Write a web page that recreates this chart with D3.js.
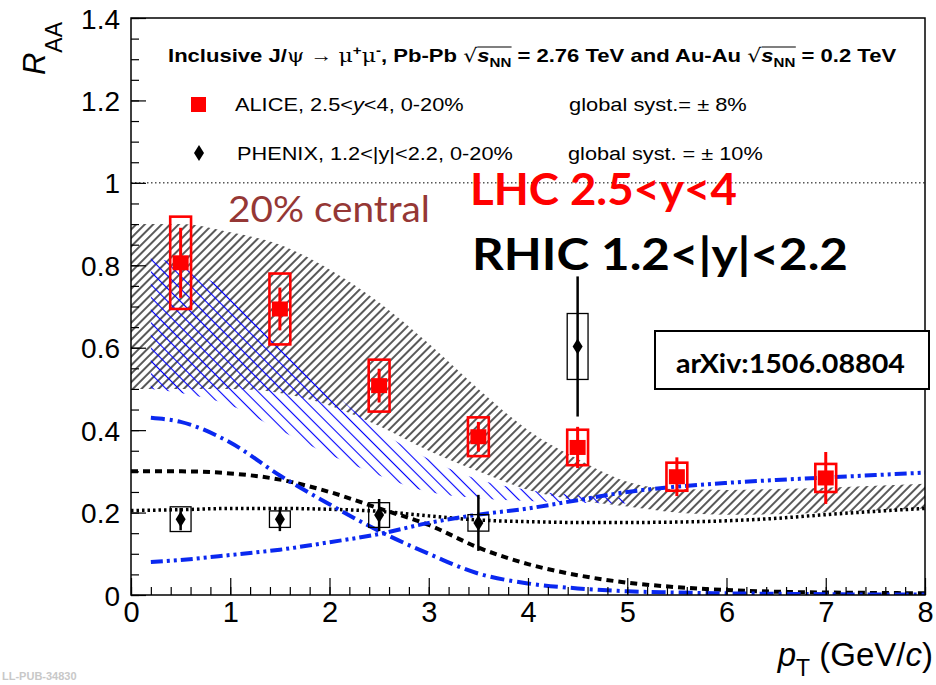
<!DOCTYPE html>
<html>
<head>
<meta charset="utf-8">
<script src="https://cdn.jsdelivr.net/npm/d3@7"></script>
<style>
  body { margin: 0; background: #fff; }
  svg { display: block; }
</style>
</head>
<body>
<div class="chart"></div>
<script>
// ALICE Pb-Pb 2.76 TeV, 2.5<y<4
const alicePt = [0.5, 1.5, 2.5, 3.5, 4.5, 5.5, 7.0];
const aliceRaa = [0.806, 0.694, 0.508, 0.384, 0.358, 0.287, 0.284];
const aliceStat = [0.085, 0.052, 0.041, 0.036, 0.050, 0.047, 0.063];
const aliceSys = [0.112, 0.086, 0.063, 0.047, 0.043, 0.034, 0.034];

// PHENIX Au-Au 0.2 TeV, 1.2<|y|<2.2
const phenixPt = [0.5, 1.5, 2.5, 3.5, 4.5];
const phenixRaa = [0.184, 0.184, 0.194, 0.175, 0.603];
const phenixStat = [0.027, 0.029, 0.039, 0.068, 0.170];
const phenixSys = [0.030, 0.020, 0.030, 0.020, 0.080];

// model bands
const lhcBandPt = [0, 0.5, 1, 1.5, 2, 2.5, 3, 3.5, 4, 4.5, 5, 5.5, 6, 6.5, 7, 7.5, 8];
const lhcBandHi = [0.90, 0.90, 0.88, 0.85, 0.79, 0.71, 0.61, 0.50, 0.40, 0.33, 0.275, 0.257, 0.255, 0.257, 0.26, 0.265, 0.27];
const lhcBandLo = [0.50, 0.50, 0.50, 0.49, 0.46, 0.41, 0.35, 0.30, 0.255, 0.23, 0.215, 0.20, 0.195, 0.196, 0.20, 0.205, 0.21];

const rhicBandPt = [0.2, 0.5, 1, 1.5, 2, 2.5, 3, 3.5, 4, 4.5, 5];
const rhicBandHi = [0.82, 0.80, 0.73, 0.62, 0.50, 0.40, 0.33, 0.28, 0.255, 0.242, 0.235];
const rhicBandLo = [0.50, 0.49, 0.46, 0.40, 0.34, 0.29, 0.25, 0.235, 0.228, 0.224, 0.222];

// model curves
const curvePt = [0, 0.5, 1, 1.5, 2, 2.5, 3, 3.5, 4, 4.5, 5, 5.5, 6, 6.5, 7, 7.5, 8];
const lhcPrimordial = [0.30, 0.30, 0.295, 0.28, 0.25, 0.21, 0.17, 0.115, 0.075, 0.048, 0.03, 0.019, 0.012, 0.008, 0.006, 0.005, 0.004];
const lhcTotal = [0.205, 0.207, 0.21, 0.21, 0.208, 0.203, 0.192, 0.182, 0.178, 0.176, 0.176, 0.177, 0.18, 0.186, 0.195, 0.203, 0.21];

const rhicPt = [0.2, 0.5, 1, 1.5, 2, 2.5, 3, 3.5, 4, 4.5, 5, 5.5, 6, 6.5, 7, 7.5, 8];
const rhicPrimordial = [0.43, 0.42, 0.37, 0.29, 0.22, 0.155, 0.10, 0.052, 0.028, 0.016, 0.009, 0.006, 0.004, 0.003, 0.002, 0.001, 0.001];
const rhicRegen = [0.08, 0.085, 0.097, 0.11, 0.128, 0.148, 0.175, 0.195, 0.21, 0.23, 0.25, 0.263, 0.272, 0.279, 0.285, 0.291, 0.297];

const xTicks = [0, 1, 2, 3, 4, 5, 6, 7, 8];
const yTicks = [0, 0.2, 0.4, 0.6, 0.8, 1, 1.2, 1.4];
const yTickLabels = ['0', '0.2', '0.4', '0.6', '0.8', '1', '1.2', '1.4'];

const w = 936;
const h = 685;
const rootFont = '"Liberation Sans", Arial, Helvetica, sans-serif';
const pptFont = 'Lato, "Open Sans", sans-serif';
const boxHalf = 0.105;

const xScale = d3.scaleLinear().domain([0, 8]).range([131, 925]);
const yScale = d3.scaleLinear().domain([0, 1.4]).range([595, 18]);

const svg = d3.select('.chart')
              .append('svg')
              .attr('width', w)
              .attr('height', h);

const defs = svg.append('defs');

defs.append('clipPath')
    .attr('id', 'plotClip')
    .append('rect')
    .attr('x', xScale(0))
    .attr('y', yScale(1.4))
    .attr('width', xScale(8) - xScale(0))
    .attr('height', yScale(0) - yScale(1.4));

function hatch(id, spacing, angle, color, width) {
  const p = defs.append('pattern')
                .attr('id', id)
                .attr('patternUnits', 'userSpaceOnUse')
                .attr('width', spacing)
                .attr('height', 20)
                .attr('patternTransform', `rotate(${angle})`);
  p.append('line')
   .attr('x1', spacing / 2).attr('y1', -1)
   .attr('x2', spacing / 2).attr('y2', 21)
   .attr('stroke', color)
   .attr('stroke-width', width);
}
hatch('hatchBlack', 6, 45, '#000', 1.3);
hatch('hatchBlue', 9, -45, '#0000ff', 1.1);

// squeeze/stretch a group horizontally so it spans x0..x1
function fitX(g, x0, x1) {
  const bb = g.node().getBBox();
  const s = (x1 - x0) / bb.width;
  g.attr('transform', `translate(${x0 - bb.x * s},0) scale(${s},1)`);
}

const plot = svg.append('g').attr('clip-path', 'url(#plotClip)');

// bands
const band = (pts, lo, hi) => d3.area()
  .x((d, i) => xScale(pts[i]))
  .y0((d, i) => yScale(lo[i]))
  .y1((d, i) => yScale(hi[i]))
  .curve(d3.curveMonotoneX)(pts);

plot.append('path')
    .attr('d', band(lhcBandPt, lhcBandLo, lhcBandHi))
    .attr('fill', 'url(#hatchBlack)');

plot.append('path')
    .attr('d', band(rhicBandPt, rhicBandLo, rhicBandHi))
    .attr('fill', 'url(#hatchBlue)');

// reference line at 1
plot.append('line')
    .attr('x1', xScale(0)).attr('x2', xScale(8))
    .attr('y1', yScale(1)).attr('y2', yScale(1))
    .attr('stroke', '#000')
    .attr('stroke-width', 1)
    .attr('stroke-dasharray', '1.5,2.5');

// curves
const curve = (pts, vals) => d3.line()
  .x((d, i) => xScale(pts[i]))
  .y((d, i) => yScale(vals[i]))
  .curve(d3.curveMonotoneX)(pts);

plot.append('path')
    .attr('d', curve(curvePt, lhcTotal))
    .attr('fill', 'none')
    .attr('stroke', '#000')
    .attr('stroke-width', 3.5)
    .attr('stroke-dasharray', '2.5,3');

plot.append('path')
    .attr('d', curve(curvePt, lhcPrimordial))
    .attr('fill', 'none')
    .attr('stroke', '#000')
    .attr('stroke-width', 4)
    .attr('stroke-dasharray', '7,5');

plot.append('path')
    .attr('d', curve(rhicPt, rhicPrimordial))
    .attr('fill', 'none')
    .attr('stroke', '#0a28f0')
    .attr('stroke-width', 4)
    .attr('stroke-dasharray', '14,5,3,5');

plot.append('path')
    .attr('d', curve(rhicPt, rhicRegen))
    .attr('fill', 'none')
    .attr('stroke', '#0a28f0')
    .attr('stroke-width', 4)
    .attr('stroke-dasharray', '12,4,3,4,3,4');

// PHENIX points
const phenix = plot.append('g');
phenixPt.forEach((pt, i) => {
  const cx = xScale(pt);
  phenix.append('rect')
        .attr('x', xScale(pt - boxHalf))
        .attr('y', yScale(phenixRaa[i] + phenixSys[i]))
        .attr('width', xScale(pt + boxHalf) - xScale(pt - boxHalf))
        .attr('height', yScale(phenixRaa[i] - phenixSys[i]) - yScale(phenixRaa[i] + phenixSys[i]))
        .attr('fill', 'none')
        .attr('stroke', '#000')
        .attr('stroke-width', 1.3);
  phenix.append('line')
        .attr('x1', cx).attr('x2', cx)
        .attr('y1', yScale(phenixRaa[i] + phenixStat[i]))
        .attr('y2', yScale(phenixRaa[i] - phenixStat[i]))
        .attr('stroke', '#000')
        .attr('stroke-width', 2.5);
  const cy = yScale(phenixRaa[i]);
  phenix.append('path')
        .attr('d', `M${cx},${cy - 8}L${cx + 5},${cy}L${cx},${cy + 8}L${cx - 5},${cy}Z`)
        .attr('fill', '#000');
});

// ALICE points
const alice = plot.append('g');
alicePt.forEach((pt, i) => {
  const cx = xScale(pt);
  alice.append('rect')
       .attr('x', xScale(pt - boxHalf))
       .attr('y', yScale(aliceRaa[i] + aliceSys[i]))
       .attr('width', xScale(pt + boxHalf) - xScale(pt - boxHalf))
       .attr('height', yScale(aliceRaa[i] - aliceSys[i]) - yScale(aliceRaa[i] + aliceSys[i]))
       .attr('fill', 'none')
       .attr('stroke', '#ff0000')
       .attr('stroke-width', 2.6);
  alice.append('line')
       .attr('x1', cx).attr('x2', cx)
       .attr('y1', yScale(aliceRaa[i] + aliceStat[i]))
       .attr('y2', yScale(aliceRaa[i] - aliceStat[i]))
       .attr('stroke', '#ff0000')
       .attr('stroke-width', 3);
  const cy = yScale(aliceRaa[i]);
  alice.append('rect')
       .attr('x', cx - 8).attr('y', cy - 7.5)
       .attr('width', 16).attr('height', 15)
       .attr('fill', '#ff0000');
});

// axes
const xMajor = d3.axisBottom(xScale).tickValues(xTicks).tickSize(-17).tickSizeOuter(0).tickFormat(d3.format('d'));
const xMinor = d3.axisBottom(xScale).tickValues(d3.range(0, 8.01, 0.2)).tickSize(-8).tickSizeOuter(0).tickFormat('');
const yMajor = d3.axisLeft(yScale).tickValues(yTicks).tickSize(-15).tickSizeOuter(0).tickFormat((d, i) => yTickLabels[i]);
const yMinor = d3.axisLeft(yScale).tickValues(d3.range(0, 1.401, 0.05)).tickSize(-8).tickSizeOuter(0).tickFormat('');

svg.append('g').attr('transform', `translate(0,${yScale(0)})`).call(xMinor);
const gx = svg.append('g').attr('transform', `translate(0,${yScale(0)})`).call(xMajor);
svg.append('g').attr('transform', `translate(${xScale(0)},0)`).call(yMinor);
const gy = svg.append('g').attr('transform', `translate(${xScale(0)},0)`).call(yMajor);

svg.selectAll('.domain').remove();
svg.selectAll('.tick line').attr('stroke', '#000').attr('stroke-width', 1.2);

gx.selectAll('.tick text')
  .attr('y', 6)
  .attr('dy', '0.71em')
  .style('font-family', rootFont)
  .style('font-size', '29px')
  .attr('fill', '#000');

gy.selectAll('.tick text')
  .attr('x', -11)
  .attr('dy', '0.36em')
  .style('font-family', rootFont)
  .style('font-size', '28px')
  .attr('fill', '#000');

svg.append('rect')
   .attr('x', xScale(0))
   .attr('y', yScale(1.4))
   .attr('width', xScale(8) - xScale(0))
   .attr('height', yScale(0) - yScale(1.4))
   .attr('fill', 'none')
   .attr('stroke', '#000')
   .attr('stroke-width', 1.5);

// axis titles
const xTitle = svg.append('text')
                  .attr('x', 933)
                  .attr('y', 666)
                  .style('text-anchor', 'end')
                  .style('font-family', rootFont)
                  .style('font-size', '33px');
xTitle.append('tspan').style('font-style', 'italic').text('p');
xTitle.append('tspan').attr('dy', 10).style('font-size', '23px').text('T');
xTitle.append('tspan').attr('dy', -10).text(' (GeV/');
xTitle.append('tspan').style('font-style', 'italic').text('c');
xTitle.append('tspan').text(')');

const yTitle = svg.append('text')
                  .attr('transform', 'translate(45,22) rotate(-90)')
                  .style('text-anchor', 'end')
                  .style('font-family', rootFont)
                  .style('font-size', '31px');
yTitle.append('tspan').style('font-style', 'italic').text('R');
yTitle.append('tspan').attr('dy', 17).style('font-size', '23px').text('AA');

// header of the legend
const headerG = svg.append('g');
const header = headerG.append('text')
                      .attr('y', 62)
                      .style('font-family', rootFont)
                      .style('font-weight', 'bold')
                      .style('font-size', '19px');
const serif = t => header.append('tspan')
                         .style('font-family', '"DejaVu Serif", serif')
                         .style('font-weight', 'normal')
                         .text(t);
header.append('tspan').text('Inclusive J/');
serif('ψ');
header.append('tspan').style('font-weight', 'normal').text(' \u2192 ');
serif('μ');
header.append('tspan').attr('dy', -7).style('font-size', '13px').text('+');
serif('μ').attr('dy', 7);
header.append('tspan').attr('dy', -7).style('font-size', '13px').text('-');
header.append('tspan').attr('dy', 7).text(', Pb-Pb ');
const root1 = serif('\u221A');
header.append('tspan').style('font-style', 'italic').text('s');
const nn1 = header.append('tspan').attr('dy', 5).style('font-size', '13px').text('NN');
header.append('tspan').attr('dy', -5).text(' = 2.76 TeV and Au-Au ');
const root2 = serif('\u221A');
header.append('tspan').style('font-style', 'italic').text('s');
const nn2 = header.append('tspan').attr('dy', 5).style('font-size', '13px').text('NN');
header.append('tspan').attr('dy', -5).text(' = 0.2 TeV');

[[root1, nn1], [root2, nn2]].forEach(([r, n]) => {
  const rb = r.node().getBBox();
  const nb = n.node().getBBox();
  headerG.append('line')
         .attr('x1', rb.x + rb.width - 1).attr('x2', nb.x + nb.width)
         .attr('y1', rb.y + 3).attr('y2', rb.y + 3)
         .attr('stroke', '#000')
         .attr('stroke-width', 1.2);
});
fitX(headerG, 168, 897);

// legend entries
svg.append('rect')
   .attr('x', 191).attr('y', 97)
   .attr('width', 15).attr('height', 15)
   .attr('fill', '#ff0000');
svg.append('path')
   .attr('d', 'M199,145L204,153L199,161L194,153Z')
   .attr('fill', '#000');

function legendText(y, x0, x1, parts) {
  const g = svg.append('g');
  const t = g.append('text')
             .attr('y', y)
             .style('font-family', rootFont)
             .style('font-size', '19px');
  parts.forEach(p => {
    t.append('tspan')
     .style('font-style', p.italic ? 'italic' : 'normal')
     .text(p.t);
  });
  fitX(g, x0, x1);
}
legendText(111, 235, 464, [{t: 'ALICE, 2.5<'}, {t: 'y', italic: true}, {t: '<4, 0-20%'}]);
legendText(111, 569, 747, [{t: 'global syst.= \u00B1 8%'}]);
legendText(160, 237, 513, [{t: 'PHENIX, 1.2<|y|<2.2, 0-20%'}]);
legendText(160, 568, 763, [{t: 'global syst. = \u00B1 10%'}]);

// slide annotations
function note(txt, y, x0, x1, size, color, weight) {
  const g = svg.append('g');
  g.append('text')
   .attr('y', y)
   .style('font-family', pptFont)
   .style('font-size', `${size}px`)
   .style('font-weight', weight)
   .attr('fill', color)
   .text(txt);
  fitX(g, x0, x1);
}
note('20% central', 222, 228, 430, 36, '#953735', 'normal');
note('LHC 2.5<y<4', 205, 470, 737, 44, '#ff0000', 'bold');
note('RHIC 1.2<|y|<2.2', 270, 472, 848, 44, '#000', 'bold');

svg.append('rect')
   .attr('x', 655).attr('y', 331)
   .attr('width', 274).attr('height', 58)
   .attr('fill', '#fff')
   .attr('stroke', '#000')
   .attr('stroke-width', 2);
note('arXiv:1506.08804', 373, 676, 905, 26, '#000', 'bold');

svg.append('text')
   .attr('x', 2)
   .attr('y', 680)
   .style('font-family', rootFont)
   .style('font-size', '11px')
   .style('font-weight', 'bold')
   .attr('fill', '#c8c8c8')
   .text('LL-PUB-34830');
</script>
</body>
</html>
